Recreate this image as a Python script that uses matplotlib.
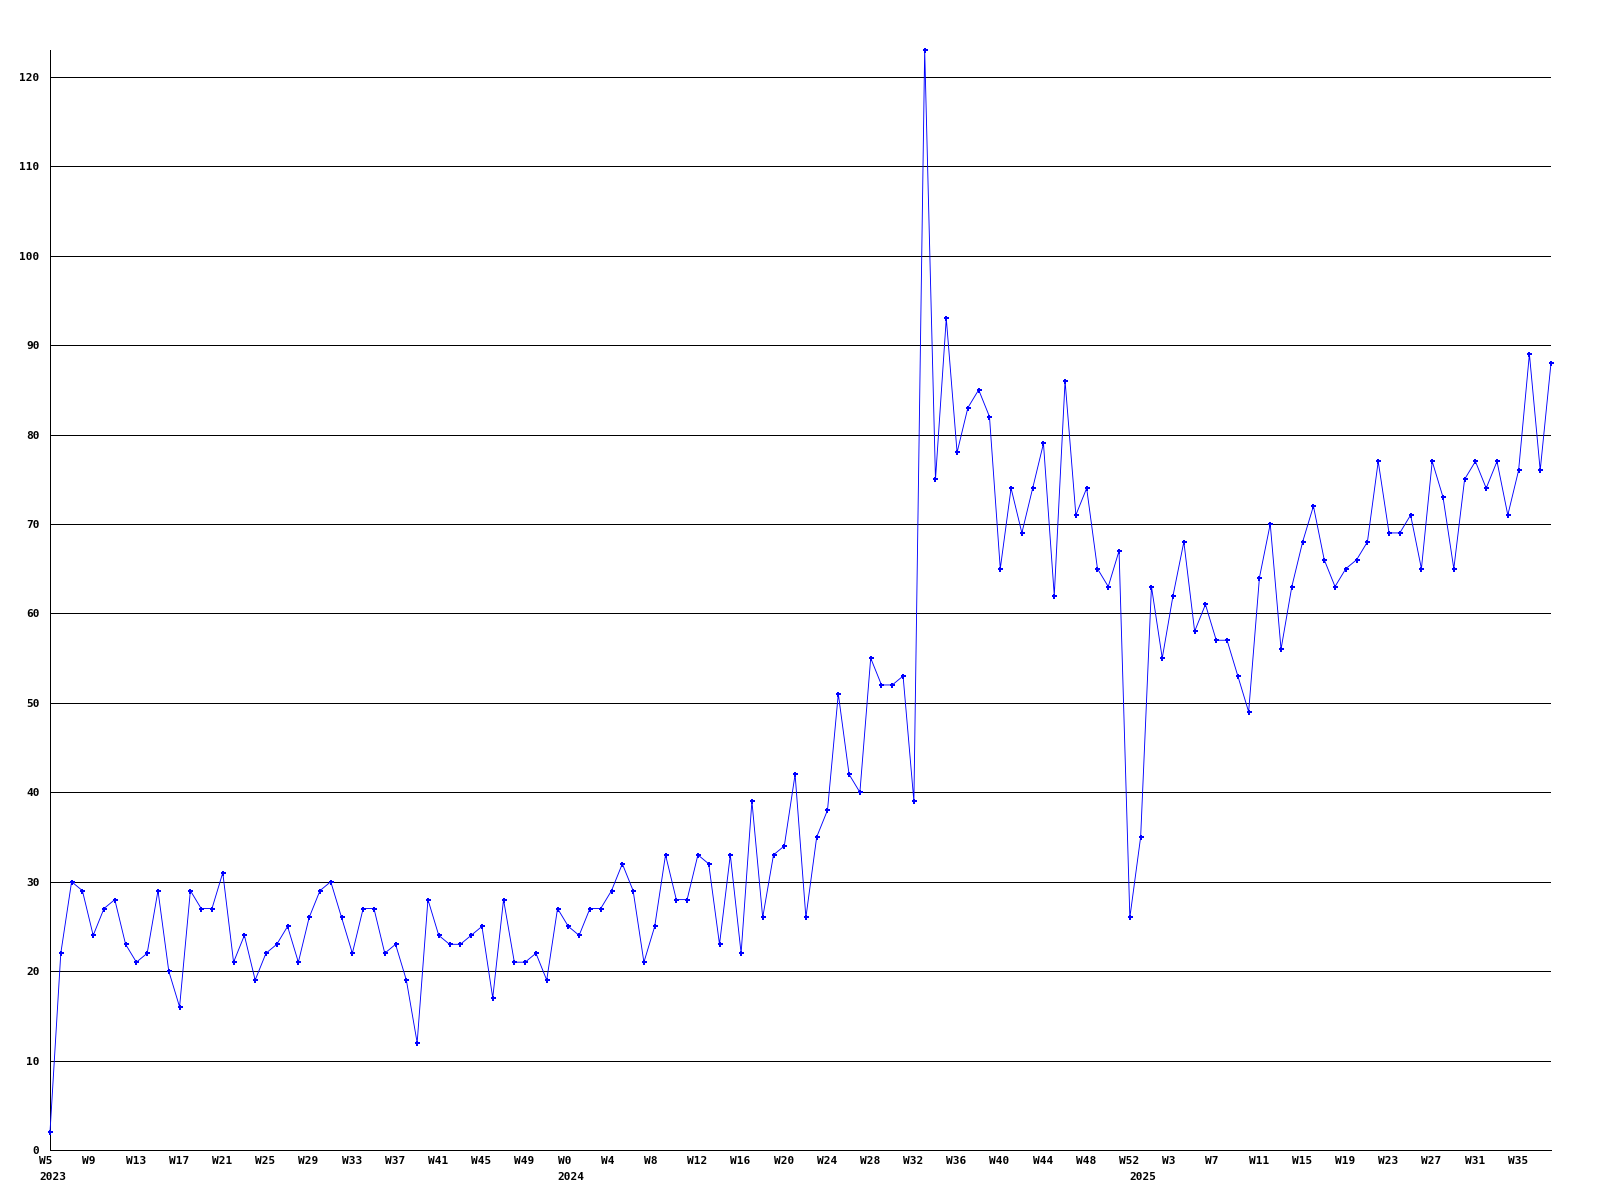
import matplotlib
matplotlib.use("Agg")
import matplotlib.pyplot as plt
import matplotlib.transforms as mtransforms

# ---- data ----
years_2023_weeks = list(range(5, 53))   # W5..W52 of 2023
years_2024_weeks = list(range(0, 53))   # W0..W52 of 2024
years_2025_weeks = list(range(0, 39))   # W0..W38 of 2025

values = [
    2, 22, 30, 29, 24, 27, 28, 23, 21, 22, 29, 20, 16, 29, 27, 27, 31, 21, 24, 19,
    22, 23, 25, 21, 26, 29, 30, 26, 22, 27, 27, 22, 23, 19, 12, 28, 24, 23, 23, 24,
    25, 17, 28, 21, 21, 22, 19, 27, 25, 24, 27, 27, 29, 32, 29, 21, 25, 33, 28, 28,
    33, 32, 23, 33, 22, 39, 26, 33, 34, 42, 26, 35, 38, 51, 42, 40, 55, 52, 52, 53,
    39, 123, 75, 93, 78, 83, 85, 82, 65, 74, 69, 74, 79, 62, 86, 71, 74, 65, 63, 67,
    26, 35, 63, 55, 62, 68, 58, 61, 57, 57, 53, 49, 64, 70, 56, 63, 68, 72, 66, 63,
    65, 66, 68, 77, 69, 69, 71, 65, 77, 73, 65, 75, 77, 74, 77, 71, 76, 89, 76, 88,
]
y_ticks = [0, 10, 20, 30, 40, 50, 60, 70, 80, 90, 100, 110, 120]

years = ([2023] * len(years_2023_weeks) + [2024] * len(years_2024_weeks)
         + [2025] * len(years_2025_weeks))
weeks = years_2023_weeks + years_2024_weeks + years_2025_weeks
x = list(range(len(values)))

FONT = dict(family="DejaVu Sans Mono", weight="bold", size=8)
PX = 72 / 100  # one pixel in points

fig = plt.figure(figsize=(16, 12), dpi=100)
ax = fig.add_axes([50 / 1600, 50 / 1200, 1501 / 1600, 1100 / 1200])

ax.plot(x, values, color="#0000ff", lw=0.65, marker="P", markersize=3.6,
        markeredgewidth=0, antialiased=True, zorder=3, clip_on=False)

ax.set_xlim(0, len(values) - 1)
ax.set_ylim(0, max(values))

for v in y_ticks[1:]:
    ax.axhline(v, color="black", lw=PX, zorder=1, antialiased=False)

for s in ["top", "right"]:
    ax.spines[s].set_visible(False)
for s in ["left", "bottom"]:
    ax.spines[s].set_linewidth(PX)
    ax.spines[s].set_color("black")
    ax.spines[s].set_antialiased(False)

ax.set_yticks(y_ticks)
ax.set_yticklabels([str(v) for v in y_ticks], fontdict=FONT)
ax.tick_params(axis="y", length=0, pad=7.5)
ax.set_xticks([])

trans = mtransforms.blended_transform_factory(ax.transData, ax.transAxes)
off = mtransforms.ScaledTranslation(-10.8 / 100, 0, fig.dpi_scale_trans)

# week labels every 4 points
for i in range(0, len(values), 4):
    ax.text(i, 0, f"W{weeks[i]}",
            transform=trans + off + mtransforms.ScaledTranslation(0, -6 / 100, fig.dpi_scale_trans),
            ha="left", va="top", **FONT)

# year labels at the first point of each year
seen = set()
for i, yr in enumerate(years):
    if yr not in seen:
        seen.add(yr)
        ax.text(i, 0, str(yr),
                transform=trans + off + mtransforms.ScaledTranslation(0, -22 / 100, fig.dpi_scale_trans),
                ha="left", va="top", **FONT)

fig.savefig("out.png", dpi=100, facecolor="white")
